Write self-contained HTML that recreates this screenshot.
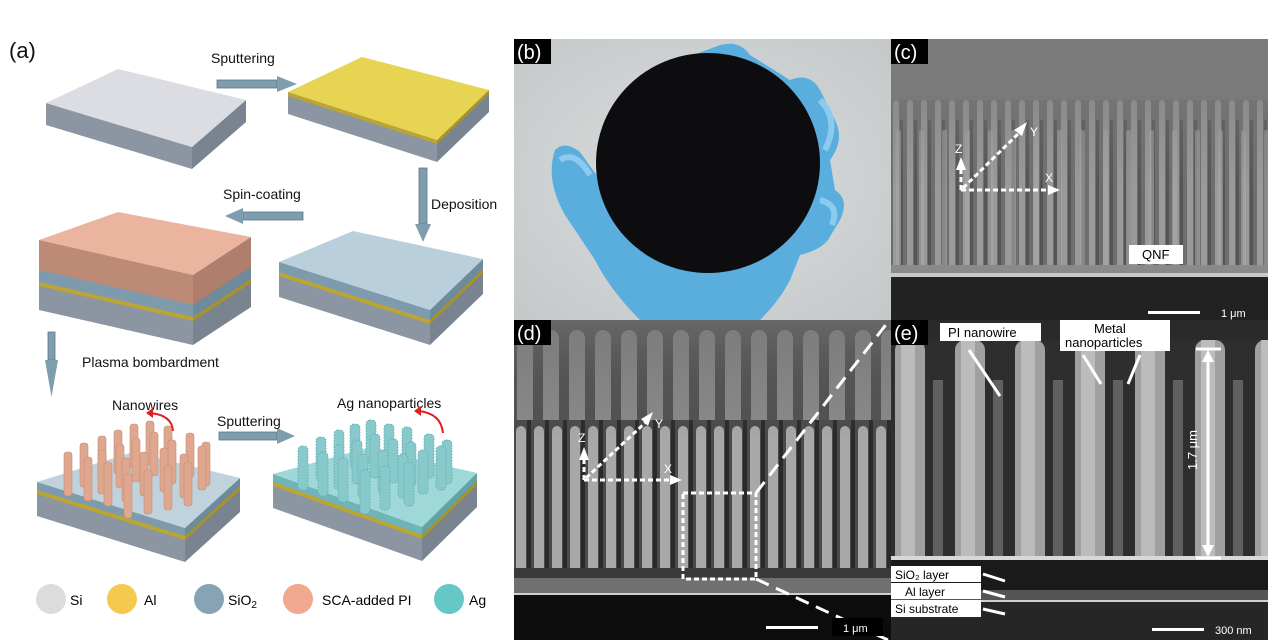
<!DOCTYPE html>
<html><head><meta charset="utf-8"><style>
html,body{margin:0;padding:0;background:#fff}
svg{display:block;font-family:"Liberation Sans","DejaVu Sans",sans-serif}
</style></head><body>
<svg width="1269" height="644" viewBox="0 0 1269 644" xmlns="http://www.w3.org/2000/svg">
<defs>
<pattern id="semc" x="891" y="100" width="14" height="180" patternUnits="userSpaceOnUse">
<rect width="14" height="180" fill="#6e6e6e"/>
<rect x="2" y="0" width="6" height="180" rx="3" fill="#9a9a9a"/>
<rect x="9" y="20" width="3" height="160" fill="#555"/>
</pattern>
<pattern id="semc2" x="891" y="100" width="23" height="180" patternUnits="userSpaceOnUse">
<rect x="5" y="30" width="5" height="150" rx="2" fill="#a8a8a8" opacity="0.6"/>
</pattern>
<pattern id="semd" x="514" y="420" width="18" height="160" patternUnits="userSpaceOnUse">
<rect width="18" height="160" fill="#4a4a4a"/>
<rect x="2" y="6" width="10" height="154" rx="5" fill="#a8a8a8"/>
<rect x="13" y="0" width="4" height="160" fill="#2a2a2a"/>
</pattern>
<pattern id="semd2" x="514" y="320" width="26" height="120" patternUnits="userSpaceOnUse">
<rect width="26" height="120" fill="#505050"/>
<rect x="3" y="10" width="16" height="110" rx="8" fill="#8a8a8a"/>
</pattern>
<pattern id="seme" x="891" y="340" width="60" height="240" patternUnits="userSpaceOnUse">
<rect width="60" height="240" fill="#2e2e2e"/>
<rect x="4" y="0" width="30" height="240" rx="10" fill="#a0a0a0"/>
<rect x="10" y="0" width="14" height="240" fill="#bcbcbc"/>
<rect x="42" y="40" width="10" height="200" fill="#606060"/>
</pattern>
<linearGradient id="fadec" x1="0" y1="0" x2="0" y2="1">
<stop offset="0" stop-color="#7a7a7a" stop-opacity="0.85"/><stop offset="0.6" stop-color="#7a7a7a" stop-opacity="0.3"/><stop offset="1" stop-color="#7a7a7a" stop-opacity="0"/>
</linearGradient>
<linearGradient id="faded" x1="0" y1="0" x2="0" y2="1">
<stop offset="0" stop-color="#777" stop-opacity="0.6"/><stop offset="0.5" stop-color="#666" stop-opacity="0.2"/><stop offset="1" stop-color="#666" stop-opacity="0"/>
</linearGradient>
<radialGradient id="bgb" cx="0.5" cy="0.5" r="0.7"><stop offset="0" stop-color="#dcdede"/><stop offset="1" stop-color="#c4c8c8"/></radialGradient>
</defs>

<!-- ===== Panel (a) ===== -->
<text x="9" y="58" font-size="22" fill="#111">(a)</text>

<polygon points="46,103 192,147 192,169 46,125" fill="#8c96a2"/>
<polygon points="192,147 246,100 246,122 192,169" fill="#7a8491"/>
<polygon points="46,103 118,69 246,100 192,147" fill="#dcdde2"/>

<polygon points="288,92 437,140 437,162 288,114" fill="#8c96a2"/>
<polygon points="437,140 489,90 489,112 437,162" fill="#7a8491"/>
<polygon points="288,92 437,140 437,144 288,96" fill="#bca531"/>
<polygon points="437,140 489,90 489,94 437,144" fill="#a8932a"/>
<polygon points="288,92 362,57 489,90 437,140" fill="#e6d452"/>

<polygon points="279,262 430,310 430,345 279,297" fill="#8c96a2"/>
<polygon points="430,310 483,259 483,294 430,345" fill="#7a8491"/>
<polygon points="279,262 430,310 430,320 279,272" fill="#7d9bad"/>
<polygon points="430,310 483,259 483,269 430,320" fill="#6e8b9c"/>
<polygon points="279,272 430,320 430,324 279,276" fill="#bca531"/>
<polygon points="430,320 483,269 483,273 430,324" fill="#a8932a"/>
<polygon points="279,262 353,231 483,259 430,310" fill="#b9cfdc"/>

<polygon points="39,240 193,275 193,345 39,310" fill="#8c96a2"/>
<polygon points="193,275 251,237 251,307 193,345" fill="#7a8491"/>
<polygon points="39,240 193,275 193,305 39,270" fill="#bd8a78"/>
<polygon points="193,275 251,237 251,267 193,305" fill="#b07e6c"/>
<polygon points="39,270 193,305 193,317 39,282" fill="#7d9bad"/>
<polygon points="193,305 251,267 251,279 193,317" fill="#6e8b9c"/>
<polygon points="39,282 193,317 193,321 39,286" fill="#bca531"/>
<polygon points="193,317 251,279 251,283 193,321" fill="#a8932a"/>
<polygon points="39,240 118,212 251,237 193,275" fill="#eab49e"/>

<rect x="217" y="80" width="60" height="8" fill="#7e9eaf" stroke="#5c7686" stroke-width="0.8"/>
<polygon points="277,76 297,84 277,92" fill="#7e9eaf"/>
<rect x="419" y="168" width="8" height="56" fill="#7e9eaf" stroke="#5c7686" stroke-width="0.8"/>
<polygon points="415,224 431,224 423,242" fill="#7e9eaf"/>
<rect x="243" y="212" width="60" height="8" fill="#7e9eaf" stroke="#5c7686" stroke-width="0.8"/>
<polygon points="243,208 225,216 243,224" fill="#7e9eaf"/>
<rect x="48" y="332" width="7" height="28" fill="#7e9eaf" stroke="#5c7686" stroke-width="0.8"/>
<polygon points="45,360 58,360 51.5,397" fill="#7e9eaf"/>
<rect x="219" y="432" width="58" height="8" fill="#7e9eaf" stroke="#5c7686" stroke-width="0.8"/>
<polygon points="277,428 295,436 277,444" fill="#7e9eaf"/>

<text x="211" y="63" font-size="14" fill="#111">Sputtering</text>
<text x="223" y="199" font-size="14" fill="#111">Spin-coating</text>
<text x="431" y="209" font-size="14" fill="#111">Deposition</text>
<text x="82" y="367" font-size="14" fill="#111">Plasma bombardment</text>
<text x="112" y="410" font-size="14" fill="#111">Nanowires</text>
<text x="217" y="426" font-size="14" fill="#111">Sputtering</text>
<text x="337" y="408" font-size="14" fill="#111">Ag nanoparticles</text>

<polygon points="37,482 185,528 185,562 37,516" fill="#8c96a2"/>
<polygon points="185,528 240,478 240,512 185,562" fill="#7a8491"/>
<polygon points="37,482 185,528 185,536 37,490" fill="#7d9bad"/>
<polygon points="185,528 240,478 240,486 185,536" fill="#6e8b9c"/>
<polygon points="37,490 185,536 185,540 37,494" fill="#bca531"/>
<polygon points="185,536 240,486 240,490 185,540" fill="#a8932a"/>
<polygon points="37,482 133,452 240,478 185,528" fill="#c0d3dd"/>
<g fill="#e0a78f" stroke="#c58d77" stroke-width="0.6" transform="translate(0,22)">
<rect x="98" y="414" width="8" height="44" rx="3"/><rect x="114" y="408" width="8" height="44" rx="3"/><rect x="130" y="402" width="8" height="44" rx="3"/><rect x="146" y="399" width="8" height="44" rx="3"/><rect x="164" y="404" width="8" height="44" rx="3"/>
<rect x="80" y="421" width="8" height="44" rx="3"/><rect x="98" y="428" width="8" height="44" rx="3"/><rect x="116" y="422" width="8" height="44" rx="3"/><rect x="132" y="416" width="8" height="44" rx="3"/><rect x="150" y="410" width="8" height="44" rx="3"/><rect x="168" y="418" width="8" height="44" rx="3"/><rect x="186" y="411" width="8" height="44" rx="3"/><rect x="202" y="420" width="8" height="44" rx="3"/>
<rect x="64" y="430" width="8" height="44" rx="3"/><rect x="84" y="435" width="8" height="44" rx="3"/><rect x="104" y="440" width="8" height="44" rx="3"/><rect x="122" y="436" width="8" height="44" rx="3"/><rect x="140" y="430" width="8" height="44" rx="3"/><rect x="160" y="426" width="8" height="44" rx="3"/><rect x="180" y="432" width="8" height="44" rx="3"/><rect x="198" y="424" width="8" height="44" rx="3"/>
<rect x="124" y="452" width="8" height="44" rx="3"/><rect x="144" y="448" width="8" height="44" rx="3"/><rect x="164" y="444" width="8" height="44" rx="3"/><rect x="184" y="440" width="8" height="44" rx="3"/>
</g>
<path d="M173,431 Q172,415 150,413" fill="none" stroke="#e02020" stroke-width="2"/>
<polygon points="146,413 153,408 153,418" fill="#e02020"/>

<polygon points="273,474 422,527 422,561 273,508" fill="#8c96a2"/>
<polygon points="422,527 477,473 477,507 422,561" fill="#7a8491"/>
<polygon points="273,474 422,527 422,535 273,482" fill="#6fb4b8"/>
<polygon points="422,527 477,473 477,481 422,535" fill="#62a3a7"/>
<polygon points="273,482 422,535 422,539 273,486" fill="#bca531"/>
<polygon points="422,535 477,481 477,485 422,539" fill="#a8932a"/>
<polygon points="273,474 367,448 477,473 422,527" fill="#9fd8d8"/>
<g fill="#88c9cc" stroke="#5fa8ad" stroke-width="0.8" stroke-dasharray="1.5 1.5" transform="translate(0,22)">
<rect x="334" y="408" width="10" height="44" rx="4"/><rect x="350" y="402" width="10" height="44" rx="4"/><rect x="366" y="398" width="10" height="44" rx="4"/><rect x="384" y="402" width="10" height="44" rx="4"/><rect x="402" y="405" width="10" height="44" rx="4"/>
<rect x="316" y="415" width="10" height="44" rx="4"/><rect x="334" y="423" width="10" height="44" rx="4"/><rect x="352" y="418" width="10" height="44" rx="4"/><rect x="370" y="412" width="10" height="44" rx="4"/><rect x="388" y="417" width="10" height="44" rx="4"/><rect x="406" y="420" width="10" height="44" rx="4"/><rect x="424" y="412" width="10" height="44" rx="4"/><rect x="442" y="418" width="10" height="44" rx="4"/>
<rect x="298" y="424" width="10" height="44" rx="4"/><rect x="318" y="430" width="10" height="44" rx="4"/><rect x="338" y="436" width="10" height="44" rx="4"/><rect x="358" y="432" width="10" height="44" rx="4"/><rect x="378" y="428" width="10" height="44" rx="4"/><rect x="398" y="432" width="10" height="44" rx="4"/><rect x="418" y="428" width="10" height="44" rx="4"/><rect x="436" y="424" width="10" height="44" rx="4"/>
<rect x="360" y="448" width="10" height="44" rx="4"/><rect x="380" y="444" width="10" height="44" rx="4"/><rect x="404" y="440" width="10" height="44" rx="4"/>
</g>
<path d="M443,433 Q441,413 418,411" fill="none" stroke="#e02020" stroke-width="2"/>
<polygon points="414,411 421,406 421,416" fill="#e02020"/>

<circle cx="51" cy="599" r="15" fill="#dcdcdc"/><text x="70" y="605" font-size="14">Si</text>
<circle cx="122" cy="599" r="15" fill="#f5c94d"/><text x="144" y="605" font-size="14">Al</text>
<circle cx="209" cy="599" r="15" fill="#87a4b5"/><text x="228" y="605" font-size="14">SiO<tspan font-size="10" dy="3">2</tspan></text>
<circle cx="298" cy="599" r="15" fill="#f0a88e"/><text x="322" y="605" font-size="14">SCA-added PI</text>
<circle cx="449" cy="599" r="15" fill="#66c7c7"/><text x="469" y="605" font-size="14">Ag</text>

<!-- ===== Panel (b) ===== -->
<rect x="514" y="39" width="377" height="281" fill="url(#bgb)"/>
<path d="M555,150 Q565,140 580,152 L600,180 L640,130 Q660,80 680,60 L720,45 Q740,40 750,55 L790,80 Q810,72 820,90 L835,120 Q845,140 830,160 L835,190 Q850,200 840,220 L828,240 Q820,250 800,255 L790,280 Q780,300 760,320 L640,320 Q610,290 595,260 L565,215 Q545,180 555,150 Z" fill="#5aaede"/>
<path d="M560,160 Q575,150 590,175 M820,100 Q840,120 825,150 M820,200 Q840,205 832,225" stroke="#8ccaee" stroke-width="6" fill="none"/>
<ellipse cx="708" cy="163" rx="112" ry="110" fill="#0d0d10"/>
<rect x="514" y="39" width="37" height="25" fill="#000"/>
<text x="517" y="59" font-size="20" fill="#fff">(b)</text>

<!-- ===== Panel (c) ===== -->
<rect x="891" y="39" width="377" height="281" fill="#7b7b7b"/>
<rect x="891" y="100" width="377" height="170" fill="url(#semc)"/>
<rect x="891" y="100" width="377" height="170" fill="url(#semc2)"/>
<rect x="891" y="39" width="377" height="150" fill="url(#fadec)"/>
<rect x="891" y="265" width="377" height="8" fill="#8a8a8a"/>
<rect x="891" y="273" width="377" height="4" fill="#c8c8c8"/>
<rect x="891" y="277" width="377" height="43" fill="#222"/>
<rect x="891" y="39" width="37" height="25" fill="#000"/>
<text x="894" y="59" font-size="20" fill="#fff">(c)</text>
<g stroke="#fff" stroke-width="3" stroke-dasharray="5 3" fill="none">
<line x1="961" y1="190" x2="1050" y2="190"/><line x1="961" y1="190" x2="961" y2="167"/><line x1="963" y1="188" x2="1020" y2="132"/>
</g>
<polygon points="1048,185 1060,190 1048,195" fill="#fff"/>
<polygon points="956,170 961,157 966,170" fill="#fff"/>
<polygon points="1014,130 1027,122 1022,136" fill="#fff"/>
<text x="955" y="153" font-size="12" fill="#fff">Z</text>
<text x="1030" y="136" font-size="12" fill="#fff">Y</text>
<text x="1045" y="182" font-size="12" fill="#fff">X</text>
<rect x="1129" y="245" width="54" height="19" fill="#fff"/>
<text x="1142" y="259" font-size="13" fill="#000">QNF</text>
<rect x="1148" y="311" width="52" height="3" fill="#fff"/>
<text x="1221" y="317" font-size="11" fill="#fff">1 μm</text>

<!-- ===== Panel (d) ===== -->
<rect x="514" y="320" width="377" height="320" fill="#5a5a5a"/>
<rect x="514" y="320" width="377" height="120" fill="url(#semd2)"/>
<rect x="514" y="420" width="377" height="155" fill="url(#semd)"/>
<rect x="514" y="320" width="377" height="120" fill="url(#faded)"/>
<rect x="514" y="568" width="377" height="10" fill="#3a3a3a"/>
<rect x="514" y="578" width="377" height="17" fill="#707070"/>
<rect x="514" y="593" width="377" height="2" fill="#d0d0d0"/>
<rect x="514" y="595" width="377" height="45" fill="#0c0c0c"/>
<rect x="514" y="320" width="37" height="25" fill="#000"/>
<text x="517" y="340" font-size="20" fill="#fff">(d)</text>
<g stroke="#fff" stroke-width="3" stroke-dasharray="5 3" fill="none">
<line x1="584" y1="480" x2="672" y2="480"/><line x1="584" y1="480" x2="584" y2="458"/><line x1="586" y1="478" x2="646" y2="422"/>
<rect x="683" y="493" width="73" height="86"/>
</g>
<g stroke="#fff" stroke-width="3" stroke-dasharray="14 8" fill="none">
<line x1="756" y1="493" x2="888" y2="322"/><line x1="756" y1="579" x2="888" y2="640"/>
</g>
<polygon points="670,475 682,480 670,485" fill="#fff"/>
<polygon points="579,460 584,447 589,460" fill="#fff"/>
<polygon points="641,419 653,412 648,426" fill="#fff"/>
<text x="578" y="442" font-size="12" fill="#fff">Z</text>
<text x="655" y="428" font-size="12" fill="#fff">Y</text>
<text x="664" y="473" font-size="12" fill="#fff">X</text>
<rect x="766" y="626" width="52" height="3" fill="#fff"/>
<rect x="832" y="618" width="51" height="18" fill="#000"/>
<text x="843" y="632" font-size="11" fill="#fff">1 μm</text>

<!-- ===== Panel (e) ===== -->
<rect x="891" y="320" width="377" height="320" fill="#2a2a2a"/>
<rect x="891" y="340" width="377" height="220" fill="url(#seme)"/>
<rect x="891" y="556" width="377" height="4" fill="#d8d8d8"/>
<rect x="891" y="560" width="377" height="30" fill="#1a1a1a"/>
<rect x="891" y="590" width="377" height="12" fill="#555"/>
<rect x="891" y="600" width="377" height="2" fill="#cfcfcf"/>
<rect x="891" y="602" width="377" height="38" fill="#262626"/>
<rect x="891" y="320" width="37" height="25" fill="#000"/>
<text x="894" y="340" font-size="20" fill="#fff">(e)</text>
<rect x="940" y="323" width="101" height="18" fill="#fff"/>
<text x="948" y="337" font-size="13" fill="#000">PI nanowire</text>
<rect x="1060" y="320" width="110" height="31" fill="#fff"/>
<text x="1094" y="333" font-size="13" fill="#000">Metal</text>
<text x="1065" y="347" font-size="13" fill="#000">nanoparticles</text>
<g stroke="#fff" stroke-width="3">
<line x1="969" y1="350" x2="1000" y2="396"/><line x1="1083" y1="355" x2="1101" y2="384"/><line x1="1140" y1="355" x2="1128" y2="384"/>
<line x1="1208" y1="352" x2="1208" y2="555"/><line x1="1196" y1="349" x2="1221" y2="349"/><line x1="1196" y1="558" x2="1221" y2="558"/>
</g>
<polygon points="1202,362 1208,350 1214,362" fill="#fff"/>
<polygon points="1202,545 1208,557 1214,545" fill="#fff"/>
<text x="0" y="0" font-size="13" fill="#fff" transform="translate(1197,470) rotate(-90)">1.7 μm</text>
<rect x="891" y="566" width="90" height="16" fill="#fff"/><text x="895" y="579" font-size="12" fill="#000">SiO₂ layer</text>
<rect x="891" y="583" width="90" height="16" fill="#fff"/><text x="905" y="596" font-size="12" fill="#000">Al layer</text>
<rect x="891" y="600" width="90" height="17" fill="#fff"/><text x="895" y="613" font-size="12" fill="#000">Si substrate</text>
<g stroke="#fff" stroke-width="3">
<line x1="983" y1="574" x2="1005" y2="581"/><line x1="983" y1="591" x2="1005" y2="597"/><line x1="983" y1="609" x2="1005" y2="614"/>
</g>
<rect x="1152" y="628" width="52" height="3" fill="#fff"/>
<text x="1215" y="634" font-size="11" fill="#fff">300 nm</text>
</svg>
</body></html>
